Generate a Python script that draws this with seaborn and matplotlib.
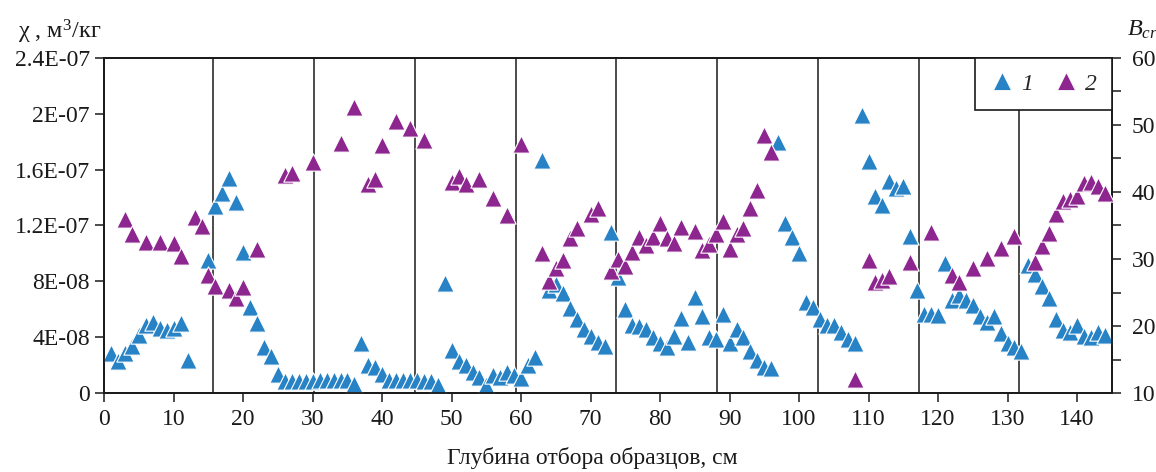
import numpy as np
import pandas as pd
import matplotlib
matplotlib.use("Agg")
import matplotlib.pyplot as plt
from matplotlib.lines import Line2D
import seaborn as sns

# Magnetic susceptibility (series 1), values in units of 1e-8 m^3/kg
chi_depth = list(range(1, 13)) + list(range(15, 145))
chi_e8 = [
    2.9, 2.3, 2.9, 3.4, 4.2, 4.9, 5.1, 4.65, 4.5, 4.65, 5.0, 2.4,
    9.5, 13.4, 14.3, 15.4, 13.7, 10.1, 6.2, 5.0, 3.3, 2.7,
    1.4, 0.85, 0.85, 0.85, 0.9, 0.9, 0.95, 0.95, 0.95, 0.95, 0.95, 0.7,
    3.6, 2.0, 1.9, 1.4, 0.95, 0.95, 0.95, 0.95, 0.95, 0.9, 0.9, 0.6,
    7.9, 3.1, 2.3, 2.0, 1.5, 1.2, 0.6, 1.3, 1.2, 1.5, 1.3, 1.1, 2.0, 2.6,
    16.7, 7.4, 7.8, 7.2, 6.1, 5.3, 4.6, 4.1, 3.7, 3.4,
    11.5, 8.3, 6.0, 4.9, 4.8, 4.6, 4.0, 3.6, 3.3, 4.1, 5.4, 3.7, 6.9, 5.5,
    4.0, 3.9, 5.7, 3.6, 4.6, 4.0, 3.0, 2.4, 1.9, 1.8,
    18.0, 12.2, 11.2, 10.0, 6.5, 6.2, 5.3, 4.9, 4.9, 4.4, 3.9, 3.6,
    19.9, 16.6, 14.1, 13.5, 15.2, 14.7, 14.8, 11.25, 7.4, 5.7, 5.7, 5.6,
    9.3, 6.7, 7.0, 6.7, 6.3, 5.5, 5.1, 5.5, 4.3, 3.6, 3.3, 3.0,
    9.2, 8.5, 7.7, 6.8, 5.3, 4.5, 4.4, 4.9, 4.1, 4.05, 4.4, 4.2,
]

# B_cr (series 2)
bcr_depth = [
    3, 4, 6, 8, 10, 11, 13, 14, 15, 16, 18, 19, 20, 22,
    26, 27, 30, 34, 36, 38, 39, 40, 42, 44, 46,
    50, 51, 52, 54, 56, 58, 60,
    63, 64, 65, 66, 67, 68, 70, 71,
    73, 74, 75, 76, 77, 78, 79, 80, 81, 82, 83, 85, 86, 87, 88,
    89, 90, 91, 92, 93, 94, 95, 96,
    108, 110, 111, 112, 113, 116, 119,
    122, 123, 125, 127, 129, 131,
    134, 135, 136, 137, 138, 139, 140, 141, 142, 143, 144,
]
bcr = [
    35.9, 33.8, 32.6, 32.6, 32.4, 30.4, 36.3, 34.9, 27.6, 26.0, 25.4, 24.2, 25.8, 31.5,
    42.5, 42.8, 44.5, 47.3, 52.7, 41.2, 42.0, 47.0, 50.5, 49.5, 47.8,
    41.5, 42.3, 41.2, 41.9, 39.1, 36.6, 47.1,
    30.9, 26.8, 28.6, 29.9, 33.1, 34.6, 36.7, 37.6,
    28.2, 30.0, 28.9, 31.1, 33.3, 32.1, 33.3, 35.4, 33.1, 32.4, 34.8, 34.2, 31.4, 32.3, 33.8,
    35.7, 31.5, 33.8, 34.6, 37.6, 40.3, 48.5, 46.0,
    12.2, 29.9, 26.6, 26.9, 27.5, 29.6, 34.1,
    27.6, 26.6, 28.6, 30.1, 31.6, 33.4,
    29.6, 31.9, 33.9, 36.7, 38.6, 39.0, 39.4, 41.4, 41.5, 40.9, 39.8,
]

# Layer boundaries
boundaries = [15.7, 30.2, 44.7, 59.2, 73.7, 88.2, 102.7, 117.2, 131.7]

left_ticks = [0, 4e-8, 8e-8, 1.2e-7, 1.6e-7, 2e-7, 2.4e-7]
left_labels = ["0", "4E-08", "8E-08", "1.2E-07", "1.6E-07", "2E-07", "2.4E-07"]
right_ticks = [10, 20, 30, 40, 50, 60]
x_ticks = list(range(0, 150, 10))

BLUE = "#2783c5"
PURPLE = "#8e2690"

sns.set_style("ticks")
plt.rcParams["font.family"] = ["Liberation Serif", "DejaVu Serif"]
plt.rcParams["mathtext.fontset"] = "custom"
plt.rcParams["mathtext.rm"] = "Liberation Serif"
plt.rcParams["mathtext.it"] = "Liberation Serif:italic"

FS = 17

df1 = pd.DataFrame({"depth": chi_depth, "chi": np.array(chi_e8) * 1e-8})
df2 = pd.DataFrame({"depth": bcr_depth, "bcr": bcr})

fig = plt.figure(figsize=(11.56, 4.72), dpi=100)
ax = fig.add_axes([0.0902, 0.1667, 0.8715, 0.7111])
ax2 = ax.twinx()

for b in boundaries:
    ax.axvline(b, color="#1a1a1a", lw=1.1, zorder=1)

sns.scatterplot(data=df1, x="depth", y="chi", marker="^", s=155, color=BLUE,
                edgecolor="white", linewidth=0.8, ax=ax, zorder=3, legend=False)
sns.scatterplot(data=df2, x="depth", y="bcr", marker="^", s=155, color=PURPLE,
                edgecolor="white", linewidth=0.8, ax=ax2, zorder=3, legend=False)

ax.set_xlim(0, 145)
ax.set_ylim(0, 2.4e-7)
ax2.set_ylim(10, 60)

ax.set_xticks(x_ticks)
ax.set_xticklabels([str(t) for t in x_ticks], fontsize=FS)
ax.set_yticks(left_ticks)
ax.set_yticklabels(left_labels, fontsize=FS)
ax2.set_yticks(right_ticks)
ax2.set_yticklabels([str(t) for t in right_ticks], fontsize=FS)
ax2.set_yticks([15, 25, 35, 45, 55], minor=True)

ax.set_xlabel("")
ax.set_ylabel("")
ax2.set_ylabel("")

for a in (ax, ax2):
    for sp in a.spines.values():
        sp.set_visible(True)
        sp.set_linewidth(1.3)
        sp.set_color("#1a1a1a")
    a.tick_params(which="both", direction="out", length=6.5, width=1.1, color="#1a1a1a",
                  labelcolor="#1a1a1a")
ax.tick_params(axis="x", pad=5)
ax.tick_params(axis="y", pad=4)
ax2.tick_params(axis="y", which="major", pad=8)

fig.text(18 / 1156, 1 - 38 / 472, r"χ , м$^{3}$/кг", fontsize=FS + 0.5, ha="left",
         va="baseline", color="#1a1a1a")
fig.text(1127 / 1156, 1 - 36 / 472, r"$B_{cr}$", fontsize=FS + 0.5, ha="left",
         va="baseline", color="#1a1a1a")
fig.text(592 / 1156, 1 - 458 / 472, "Глубина отбора образцов, см", fontsize=FS,
         ha="center", va="center", color="#1a1a1a")

handles = [
    Line2D([], [], marker="^", ls="none", color=BLUE, markersize=12.5, mec="white", mew=0.6),
    Line2D([], [], marker="^", ls="none", color=PURPLE, markersize=12.5, mec="white", mew=0.6),
]
leg = ax2.legend(handles, ["1", "2"], loc="upper right", bbox_to_anchor=(1, 1),
                 ncol=2, frameon=True, fancybox=False, framealpha=1,
                 edgecolor="#1a1a1a", borderaxespad=0, borderpad=0.65,
                 handlelength=1.0, handletextpad=0.3, columnspacing=0.9,
                 prop={"size": FS, "style": "italic"})
leg.get_frame().set_linewidth(1.2)
leg.set_zorder(10)

fig.savefig("out.png", dpi=100)
